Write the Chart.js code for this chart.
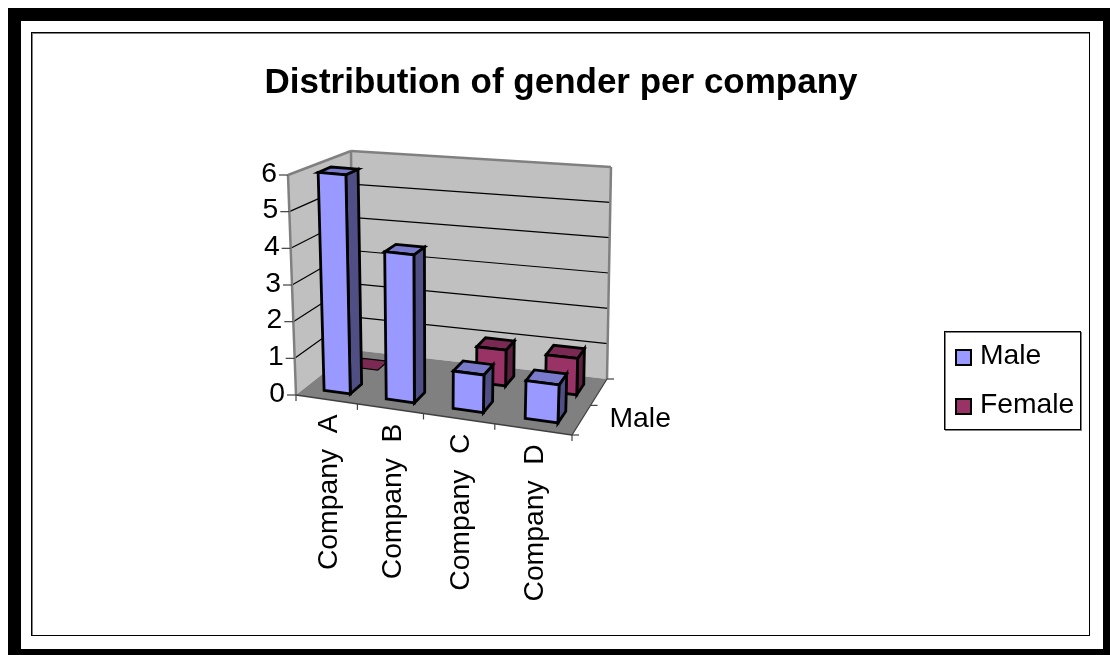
<!DOCTYPE html>
<html>
<head>
<meta charset="utf-8">
<style>html,body{margin:0;padding:0;background:#fff}canvas{display:block}</style>
<script src="https://cdn.jsdelivr.net/npm/chart.js@4/dist/chart.umd.js"></script>
</head>
<body>
<canvas id="c" width="1110" height="655"></canvas>
<script>
const chartTitle = 'Distribution of gender per company';
const categories = ['Company  A', 'Company  B', 'Company  C', 'Company  D'];
const maleValues = [6, 4, 1, 1];
const femaleValues = [0, null, 1, 1];
const yTicks = [0, 1, 2, 3, 4, 5, 6];

const FONT = '"Liberation Sans", Arial, sans-serif';
const TEXT = '28.3px ' + FONT;
const floorQuad = [[296,395],[572,435],[607,379],[353,350]];
const riseQuad  = [[-8,-220],[8,-232],[4,-212],[-2,-199]];
const BAR_SHIFT = 0.008;

function homography(q){
  const [[x0,y0],[x1,y1],[x2,y2],[x3,y3]] = q;
  const dx1=x1-x2, dx2=x3-x2, sx=x0-x1+x2-x3;
  const dy1=y1-y2, dy2=y3-y2, sy=y0-y1+y2-y3;
  const den=dx1*dy2-dx2*dy1;
  const g=(sx*dy2-dx2*sy)/den, h=(dx1*sy-sx*dy1)/den;
  const a=x1-x0+g*x1, b=x3-x0+h*x3, d=y1-y0+g*y1, e=y3-y0+h*y3;
  return (u,v)=>{const k=g*u+h*v+1;return [(a*u+b*v+x0)/k,(d*u+e*v+y0)/k];};
}
const H0=homography(floorQuad);
function rise(u,v,i){
  const q=riseQuad;
  return (1-u)*(1-v)*q[0][i]+u*(1-v)*q[1][i]+u*v*q[2][i]+(1-u)*v*q[3][i];
}
function P(u,v,w){
  const a=H0(u,v);
  return [a[0]+rise(u,v,0)*w, a[1]+rise(u,v,1)*w];
}
function poly(ctx,pts,fill,stroke,lw){
  ctx.beginPath();
  pts.forEach((p,i)=>i?ctx.lineTo(p[0],p[1]):ctx.moveTo(p[0],p[1]));
  ctx.closePath();
  if(fill){ctx.fillStyle=fill;ctx.fill();}
  if(stroke){ctx.strokeStyle=stroke;ctx.lineWidth=lw;ctx.lineJoin='miter';ctx.stroke();}
}
function seg(ctx,a,b,color,lw){
  ctx.beginPath();ctx.moveTo(a[0],a[1]);ctx.lineTo(b[0],b[1]);
  ctx.strokeStyle=color;ctx.lineWidth=lw;ctx.stroke();
}
const faceColors = [
  {front:'#9999FF', top:'#7A7ACC', side:'#4F4F85'},
  {front:'#993366', top:'#7A2952', side:'#5C1F3D'}
];
const plugin3d = {
  id:'plugin3d',
  beforeDraw(chart){
    const ctx=chart.ctx;
    ctx.save();
    ctx.fillStyle='#000';
    ctx.fillRect(8,8,1102,13);
    ctx.fillRect(8,8,13,647);
    ctx.fillRect(1103,8,7,647);
    ctx.fillRect(8,649,1102,6);
    ctx.strokeStyle='#808080';ctx.lineWidth=1;ctx.strokeRect(32.5,33.5,1057,602);
    ctx.strokeStyle='#000';ctx.strokeRect(31.5,32.5,1058,603);
    ctx.restore();
  },
  beforeDatasetsDraw(chart){
    const ctx=chart.ctx, ys=chart.scales.y, ca=chart.chartArea;
    const wOf=val=>(ca.bottom-ys.getPixelForValue(val))/(ca.bottom-ca.top);
    ctx.save();
    // walls and floor
    poly(ctx,[P(0,0,0),P(0,1,0),P(0,1,1),P(0,0,1)],'#C0C0C0');
    poly(ctx,[P(0,1,0),P(1,1,0),P(1,1,1),P(0,1,1)],'#C0C0C0');
    poly(ctx,[P(0,0,0),P(1,0,0),P(1,1,0),P(0,1,0)],'#808080');
    // gridlines
    yTicks.forEach(t=>{
      if(t===0) return;
      const w=wOf(t);
      if(t<6){
        seg(ctx,P(0,0,w),P(0,1,w),'#000',1.2);
        seg(ctx,P(0,1,w),P(1,1,w),'#000',1.2);
      }
    });
    // wall outlines
    const g='#808080';
    seg(ctx,P(0,0,0),P(0,0,1),g,2.5);
    seg(ctx,P(0,0,1),P(0,1,1),g,2.5);
    seg(ctx,P(0,1,1),P(1,1,1),g,2.5);
    seg(ctx,P(0,1,1),P(0,1,0),g,2.5);
    seg(ctx,P(1,1,1),P(1,1,0),g,2.5);
    // axis lines and ticks
    const ax='#404040';
    seg(ctx,P(0,0,0),P(1,0,0),ax,1.5);
    seg(ctx,P(1,0,0),P(1,1,0),ax,1.2);
    ctx.fillStyle='#000';
    ctx.font=TEXT;
    ctx.textAlign='right';ctx.textBaseline='middle';
    yTicks.forEach(t=>{
      const p=P(0,0,wOf(t));
      seg(ctx,p,[p[0]-9,p[1]],ax,1.2);
      ctx.fillStyle='#000';
      ctx.fillText(String(t),p[0]-11,p[1]-1);
    });
    const n=categories.length;
    for(let i=0;i<=n;i++){
      const p=P(i/n,0,0);
      seg(ctx,p,[p[0],p[1]+6],ax,1.2);
    }
    [0,.5,1].forEach(v=>{const p=P(1,v,0);seg(ctx,p,[p[0]+7,p[1]],ax,1.2);});
    // category labels
    const xs=chart.scales.x;
    categories.forEach((c,i)=>{
      const u=(xs.getPixelForValue(i)-ca.left)/(ca.right-ca.left);
      const p=P(u,0,0);
      ctx.save();
      ctx.translate(p[0]+3,p[1]+15);
      ctx.rotate(-Math.PI/2);
      ctx.textAlign='right';ctx.textBaseline='middle';ctx.fillStyle='#000';
      ctx.font=TEXT;
      ctx.fillText(c,0,0);
      ctx.restore();
    });
    // depth axis label
    const s=P(1,.25,0);
    ctx.textAlign='left';ctx.textBaseline='middle';ctx.fillStyle='#000';
    ctx.font=TEXT;
    ctx.fillText(chart.data.datasets[0].label,s[0]+28,s[1]-1);
    ctx.restore();
  },
  beforeDatasetDraw(chart,args){
    const ctx=chart.ctx, ca=chart.chartArea, di=args.index, colors=faceColors[di];
    const W=ca.right-ca.left, Hh=ca.bottom-ca.top;
    const nd=chart.data.datasets.length;
    const v0=(di+0.3)/nd, v1=(di+0.7)/nd;
    const values=chart.data.datasets[di].data;
    ctx.save();
    args.meta.data.forEach((el,idx)=>{
      if(values[idx]===null) return;
      const b=el.getProps(['x','y','base','width'],true);
      const u0=(b.x-b.width/2-ca.left)/W+BAR_SHIFT, u1=(b.x+b.width/2-ca.left)/W+BAR_SHIFT;
      const w0=(ca.bottom-b.base)/Hh, w1=(ca.bottom-b.y)/Hh;
      const lw=w1>w0?2.8:1.2;
      if(w1>w0) poly(ctx,[P(u1,v0,w0),P(u1,v1,w0),P(u1,v1,w1),P(u1,v0,w1)],colors.side,'#000',lw);
      poly(ctx,[P(u0,v0,w1),P(u1,v0,w1),P(u1,v1,w1),P(u0,v1,w1)],colors.top,'#000',lw);
      if(w1>w0) poly(ctx,[P(u0,v0,w0),P(u1,v0,w0),P(u1,v0,w1),P(u0,v0,w1)],colors.front,'#000',lw);
    });
    ctx.restore();
    return false;
  },
  afterDraw(chart){
    const ctx=chart.ctx;
    ctx.save();
    ctx.strokeStyle='#808080';ctx.lineWidth=1;ctx.strokeRect(945.5,332.5,136,98);
    ctx.strokeStyle='#000';ctx.strokeRect(944.5,331.5,136,98);
    chart.data.datasets.forEach((d,i)=>{
      const y=349+i*49;
      ctx.fillStyle=d.backgroundColor;
      ctx.strokeStyle='#000';ctx.lineWidth=2;
      ctx.fillRect(956,y+1,15,15);ctx.strokeRect(956,y+1,15,15);
      ctx.fillStyle='#000';ctx.font=TEXT;
      ctx.textAlign='left';ctx.textBaseline='middle';
      ctx.fillText(d.label,980,y+7);
    });
    ctx.restore();
  }
};
new Chart(document.getElementById('c'),{
  type:'bar',
  data:{
    labels:categories,
    datasets:[
      {label:'Male',data:maleValues,backgroundColor:'#9999FF',borderColor:'#000'},
      {label:'Female',data:femaleValues,backgroundColor:'#993366',borderColor:'#000'}
    ]
  },
  options:{
    responsive:false,
    animation:false,
    grouped:false,
    barPercentage:0.43,
    categoryPercentage:1,
    layout:{padding:{left:12,right:0,top:62,bottom:20}},
    plugins:{
      legend:{display:false},
      tooltip:{enabled:false},
      title:{display:true,text:chartTitle,color:'#000',padding:{top:0,bottom:10},
        font:{family:FONT,size:35,weight:'bold'}}
    },
    scales:{
      x:{display:false},
      y:{display:false,min:0,max:6,ticks:{stepSize:1}}
    }
  },
  plugins:[plugin3d]
});
</script>
</body>
</html>
